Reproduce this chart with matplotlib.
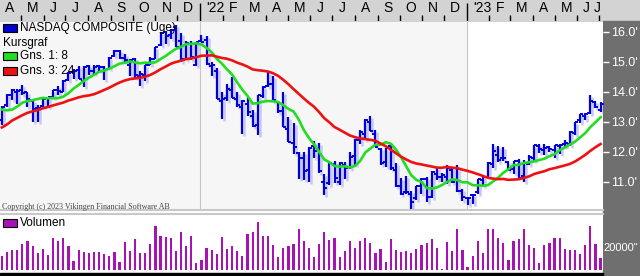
import numpy as np
import pandas as pd
import matplotlib
matplotlib.use("Agg")
import matplotlib.pyplot as plt
import matplotlib.transforms as mtransforms
from matplotlib.patches import Rectangle

plt.rcParams['font.family'] = ['Liberation Sans', 'DejaVu Sans']

# weekly bars: week of 29 Mar 2021 .. week of 26 Jun 2023 (last one partial),
# the program draws each week at the Monday after it
weeks = pd.date_range("2021-04-05", periods=118, freq="7D")

opens = [13060, 13550, 13880, 14000, 14050, 13990, 13700, 13450, 13520, 13790,
         13830, 14060, 14000, 14380, 14650, 14720, 14370, 14850, 14700, 14840,
         14820, 14760, 15180, 15370, 15110, 14900, 15100, 14530, 14550, 14900,
         15100, 15550, 15990, 15880, 16150, 15700, 15100, 15600, 14900, 15700,
         15730, 14850, 14700, 13700, 13800, 14050, 13760, 13500, 13600, 13200,
         12900, 13850, 14200, 14270, 13650, 13350, 12750, 12300, 11950, 11800,
         11400, 12200, 12050, 11000, 10950, 11600, 11000, 11550, 11500, 11850,
         12380, 12600, 13000, 12600, 12100, 11650, 12200, 11400, 10850, 10650,
         10600, 10470, 10840, 11100, 10500, 11250, 11140, 11150, 11400, 11050,
         10700, 10460, 10560, 10650, 11070, 11160, 11600, 11900, 11780, 11650,
         11420, 11700, 11180, 11600, 11800, 12180, 12050, 12150, 12050, 12200,
         12250, 12250, 12630, 13050, 13200, 13300, 13650, 13400]
highs = [13530, 13930, 14100, 14100, 14210, 14000, 13720, 13550, 13800, 13830,
         14070, 14200, 14400, 14650, 14750, 14860, 14850, 14900, 14900, 14890,
         14860, 15140, 15380, 15400, 15250, 15100, 15130, 14700, 14900, 15150,
         15500, 16000, 16020, 16100, 16212, 15950, 15700, 15700, 15660, 15900,
         15850, 15000, 14800, 14000, 14250, 14480, 14000, 13720, 13830, 13400,
         13900, 14190, 14650, 14530, 13700, 14000, 13150, 12950, 12000, 12000,
         12140, 12340, 12300, 11250, 11610, 11700, 11660, 11670, 12000, 12420,
         12720, 13080, 13180, 12720, 12110, 12120, 12270, 11630, 11110, 11180,
         10700, 10870, 11130, 11150, 11350, 11490, 11300, 11560, 11500, 11570,
         10750, 10500, 10600, 11080, 11200, 11650, 12270, 12200, 12150, 11700,
         11700, 11740, 11730, 11900, 12230, 12270, 12250, 12200, 12230, 12250,
         12400, 12680, 12990, 13260, 13300, 13880, 13700, 13650]
lows = [12900, 13500, 13730, 13600, 13900, 13500, 12990, 13000, 13500, 13500,
        13800, 13900, 13990, 14370, 14420, 14420, 14150, 14550, 14600, 14700,
        14400, 14750, 15160, 15100, 14980, 14530, 14450, 14180, 14370, 14880,
        15080, 15520, 15600, 15760, 15480, 15000, 15060, 15050, 14860, 15640,
        14900, 14530, 13760, 13100, 13700, 13780, 13500, 12587, 13200, 12830,
        12550, 13780, 14150, 13670, 13300, 12830, 12330, 11930, 11100, 11040,
        11000, 11800, 11300, 10565, 10900, 10960, 10900, 11090, 11420, 11570,
        12260, 12400, 12700, 12140, 11550, 11480, 11400, 10820, 10570, 10600,
        10088, 10400, 10600, 10320, 10440, 11050, 10990, 10920, 10950, 10640,
        10360, 10210, 10260, 10580, 10850, 11140, 11450, 11650, 11700, 11360,
        11250, 11130, 10980, 11560, 11700, 11960, 11900, 11980, 11800, 11920,
        12150, 12200, 12550, 12960, 13070, 13270, 13440, 13330]
closes = [13480, 13900, 14052, 14016, 13962, 13752, 13430, 13471, 13749, 13814,
          14069, 14030, 14360, 14639, 14701, 14427, 14837, 14673, 14835, 14822,
          14714, 15129, 15363, 15115, 15044, 15048, 14567, 14580, 14897, 15090,
          15498, 15971, 15860, 16057, 15491, 15085, 15630, 15169, 15653, 15645,
          14936, 14894, 13768, 13771, 14098, 13791, 13548, 13694, 13313, 12843,
          13894, 14169, 14261, 13711, 13351, 12839, 12335, 12145, 11805, 11354,
          12131, 12013, 11340, 10798, 11608, 11128, 11635, 11452, 11834, 12391,
          12657, 13047, 12705, 12142, 11631, 12112, 11448, 10868, 10576, 10652,
          10321, 10860, 11102, 10475, 11324, 11146, 11226, 11462, 11005, 10705,
          10498, 10466, 10569, 11079, 11140, 11622, 12007, 11718, 11787, 11395,
          11689, 11138, 11631, 11824, 12222, 12088, 12124, 12073, 12227, 12235,
          12284, 12658, 12975, 13241, 13259, 13689, 13492, 13590]
# closes from Oct 2020 to Mar 2021, only used for the moving averages
closes_before = [11580, 11671, 11548, 10912, 11895, 11830, 11855, 12206, 12464,
                 12378, 12756, 12805, 12888, 13202, 12999, 13543, 13071, 13856,
                 14095, 13874, 13192, 12920, 13320, 13215, 13138]
volume = [12200, 15700, 17400, 17400, 22600, 25200, 20900, 14800, 18300, 13000,
          27800, 25200, 27800, 20900, 7800, 17400, 15700, 15100, 15700, 15700,
          13900, 12200, 15700, 7000, 24400, 16500, 27000, 14800, 14800, 22600,
          38300, 29600, 29000, 27800, 16500, 33000, 20900, 29600, 6100, 8700,
          19100, 17400, 13900, 28700, 18300, 20900, 16500, 12200, 31300, 33000,
          41700, 29600, 29600, 21700, 11300, 19100, 20900, 22600, 35700, 25200,
          19100, 11300, 22600, 33000, 26100, 27800, 11300, 16500, 25200, 19100,
          25200, 27800, 23500, 14800, 18300, 7000, 27000, 17400, 15700, 16500,
          14800, 18300, 21700, 23500, 27000, 19100, 900, 24400, 16500, 35700,
          17400, 2600, 12200, 25200, 14800, 35700, 35700, 27800, 23500, 8700,
          25200, 27000, 35700, 21700, 19100, 6100, 21700, 23500, 27800, 27800,
          18300, 17400, 17400, 13900, 21700, 38300, 22600, 10400]

price_ticks = [11000, 12000, 13000, 14000, 15000, 16000]
month_letters = ["J", "F", "M", "A", "M", "J", "J", "A", "S", "O", "N", "D"]

all_closes = pd.Series(closes_before + closes, dtype=float)
n0 = len(closes_before)
ma8 = all_closes.rolling(8).mean().to_numpy()[n0:]
ma24 = all_closes.rolling(24).mean().to_numpy()[n0:]

# ---- layout in pixels
W, H = 640, 276
PX_DAY = 0.731
x_left = pd.Timestamp("2022-01-01") - pd.Timedelta(days=200 / PX_DAY)
x_right = x_left + pd.Timedelta(days=603 / PX_DAY)


def px_box(x0, y0, x1, y1):
    return [x0 / W, 1 - y1 / H, (x1 - x0) / W, (y1 - y0) / H]


def fig_rect(x0, y0, x1, y1, **kw):
    r = Rectangle((x0 / W, 1 - y1 / H), (x1 - x0) / W, (y1 - y0) / H,
                  transform=fig.transFigure, **kw)
    fig.add_artist(r)
    return r


fig = plt.figure(figsize=(W / 100, H / 100), dpi=100)
fig.patch.set_facecolor("white")
fig_rect(0, 0, 640, 21, color="#d3d3d3", zorder=-2)
fig_rect(603, 21, 640, 276, color="#6f6f6f", zorder=-2)
fig_rect(0, 273, 603, 276, color="black", zorder=-2)

# ---- month strip
sax = fig.add_axes(px_box(0, 0, 603, 21))
sax.set_xlim(x_left, x_right)
sax.set_ylim(0, 1)
sax.axis("off")
months = pd.date_range("2021-04-01", "2023-07-01", freq="MS")
last_label = x_right - pd.Timedelta(days=9 / PX_DAY)
for m in months:
    if m.month == 1:
        sax.vlines(m, 0, 0.86, color="black", lw=1)
        lab = "'" + str(m.year)[2:]
    else:
        sax.vlines(m, 0, 0.27, color="black", lw=1)
        lab = month_letters[m.month - 1]
    pos = min(m + pd.Timedelta(days=6 / PX_DAY), last_label)
    sax.text(pos, 0.6, lab, ha="left", va="center", fontsize=10, color="black")

# ---- price panel
ax = fig.add_axes(px_box(0, 22, 603, 210))
ax.set_xlim(x_left, x_right)
ax.set_ylim(10056, 16323)
ax.set_facecolor("#f6f6f6")
ax.axvspan(pd.Timestamp("2023-01-01"), x_right, color="white", zorder=0)
for yr in ["2022-01-01", "2023-01-01"]:
    ax.axvline(pd.Timestamp(yr), color="#c4c4c4", lw=0.8, zorder=0.5)

shadow = mtransforms.offset_copy(ax.transData, fig=fig, x=2, y=-2, units="dots")
ax.vlines(weeks, lows, highs, color="#c9c9ef", lw=1.8, transform=shadow, zorder=1)
ax.vlines(weeks, lows, highs, color="#0000dd", lw=1.6, zorder=2)
ax.plot(weeks, opens, ls="none", marker=0, ms=2.2, mew=1.4, color="#0000dd", zorder=2)
ax.plot(weeks, closes, ls="none", marker=1, ms=2.2, mew=1.4, color="#0000dd", zorder=2)
ax.plot(weeks, ma8, color="#22dd22", lw=1.9, zorder=3)
ax.plot(weeks, ma24, color="#ee1111", lw=1.9, zorder=3)

for s in ["top", "left", "right"]:
    ax.spines[s].set_visible(False)
ax.spines["bottom"].set_color("#c8c8c8")
ax.spines["bottom"].set_linewidth(1.5)
ax.set_xticks([])
ax.yaxis.tick_right()
ax.set_yticks(price_ticks)
ax.set_yticklabels([f"{v / 1000:.1f}'" for v in price_ticks])
ax.tick_params(axis="y", colors="white", labelsize=9, length=4, width=1, pad=2)

# legend texts
fig_rect(3, 24, 17, 32, facecolor="#0000cc", edgecolor="black", lw=0.8, zorder=5)
fig.text(20 / W, 1 - 28 / H, "NASDAQ COMPOSITE (Uge)", fontsize=8.5, va="center")
fig.text(3 / W, 1 - 43 / H, "Kursgraf", fontsize=8.5, va="center")
fig_rect(3, 52, 17, 60, facecolor="#22dd22", edgecolor="black", lw=0.8, zorder=5)
fig.text(20 / W, 1 - 56 / H, "Gns. 1: 8", fontsize=8.5, va="center")
fig_rect(3, 67, 17, 75, facecolor="#ee1111", edgecolor="black", lw=0.8, zorder=5)
fig.text(20 / W, 1 - 71 / H, "Gns. 3: 24", fontsize=8.5, va="center")
fig.text(2 / W, 1 - 207 / H, "Copyright (c) 2023 Vikingen Financial Software AB",
         fontsize=5.8, family="Liberation Serif", color="#444444", va="center")

# ---- volume panel
vax = fig.add_axes(px_box(0, 214, 603, 270))
vax.set_xlim(x_left, x_right)
vax.set_ylim(0, 20000 * 56 / 23)
vax.bar(weeks, volume, width=2.2 / PX_DAY, color="#a812b4", zorder=2)
for s in ["bottom", "left", "right"]:
    vax.spines[s].set_visible(False)
vax.spines["top"].set_color("#c8c8c8")
vax.spines["top"].set_linewidth(1.5)
vax.set_xticks([])
vax.yaxis.tick_right()
vax.set_yticks([20000])
vax.set_yticklabels(['20000"'])
vax.tick_params(axis="y", colors="white", labelsize=8, length=0, pad=0)
fig_rect(3, 219, 17, 227, facecolor="#a812b4", edgecolor="black", lw=0.8, zorder=5)
fig.text(20 / W, 1 - 223 / H, "Volumen", fontsize=8.5, va="center")

fig.savefig("out.png", dpi=100)
